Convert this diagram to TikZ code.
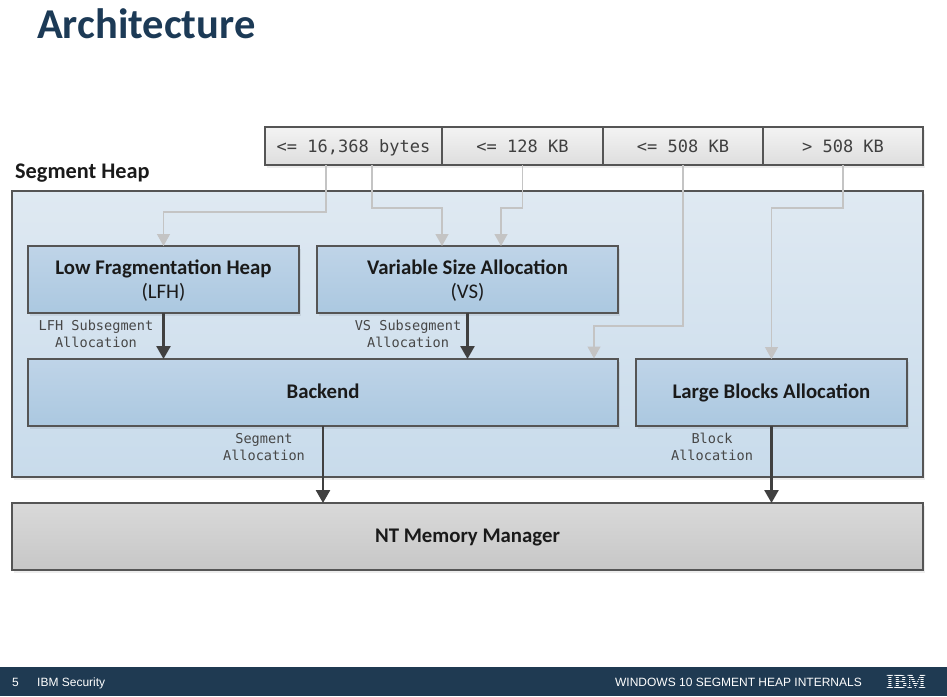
\documentclass[tikz,border=0pt]{standalone}
\usepackage{fontspec}
\setmainfont{Carlito}
\setsansfont{Liberation Sans}
\setmonofont{DejaVu Sans Mono}
\usetikzlibrary{arrows.meta,shadows}
\definecolor{edgegrey}{HTML}{555555}
\definecolor{lightconn}{HTML}{C4C4C4}
\definecolor{darkconn}{HTML}{404040}
\definecolor{navy}{HTML}{1F3A52}
\definecolor{titlecol}{HTML}{1C3A56}
\definecolor{textcol}{HTML}{1A1A1A}
\definecolor{bluetop}{HTML}{BFD4E8}
\definecolor{bluebot}{HTML}{ABC8E0}
\definecolor{heaptop}{HTML}{DFE9F2}
\definecolor{heapbot}{HTML}{C8DBEB}
\definecolor{nttop}{HTML}{D9D9D9}
\definecolor{ntbot}{HTML}{C7C7C7}
\definecolor{celltop}{HTML}{F3F3F3}
\definecolor{cellbot}{HTML}{DEDEDE}
\tikzset{
  x=1pt,y=-1pt,
  boxbase/.style={draw=edgegrey,line width=1.15pt,rectangle,inner sep=0pt,outer sep=0pt,anchor=center,align=center,text=textcol,
    drop shadow={shadow xshift=2pt,shadow yshift=-3pt,fill=black,opacity=.07}},
  bluebox/.style={boxbase,top color=bluetop,bottom color=bluebot},
  heapbox/.style={boxbase,top color=heaptop,bottom color=heapbot},
  ntbox/.style={boxbase,top color=nttop,bottom color=ntbot},
  cellbox/.style={boxbase,top color=celltop,bottom color=cellbot,font=\ttfamily\fontsize{17}{17}\selectfont,text=black!75,text height=13pt,text depth=1pt},
  boxlabel/.style={font=\bfseries\fontsize{20.8}{25}\selectfont,text height=13pt,text depth=1pt},
  twoline/.style={font=\fontsize{20.8}{24.5}\selectfont},
  smalllabel/.style={font=\ttfamily\fontsize{13.6}{17.5}\selectfont,align=center,text=black!72,inner sep=0pt},
  lightarrow/.style={draw=lightconn,line width=1.3pt,-{Triangle[length=12pt,width=13pt,fill=lightconn]}},
  darkarrow/.style={draw=darkconn,line width=2.6pt,-{Triangle[length=13pt,width=14pt,fill=darkconn]}},
  footertext/.style={font=\sffamily\fontsize{12}{14}\selectfont,text=white,inner sep=0pt},
}
\begin{document}
\begin{tikzpicture}
\useasboundingbox (0,0) rectangle (947,696);
\fill[white] (0,0) rectangle (947,696);
% title
\node[anchor=base west,inner sep=0pt,font=\bfseries\fontsize{42.5}{42.5}\selectfont,text=titlecol] (title) at (37,38) {Architecture};
\node[anchor=base west,inner sep=0pt,font=\bfseries\fontsize{22.3}{22.3}\selectfont,text=textcol] (shlabel) at (15,178) {Segment Heap};
% heap container
\node[heapbox,minimum width=911pt,minimum height=286pt] (heap) at (467.5,334) {};
% size cells
\node[cellbox,minimum width=177pt,minimum height=38pt] (c1) at (353.5,146) {<= 16,368 bytes};
\node[cellbox,minimum width=161pt,minimum height=38pt] (c2) at (522.5,146) {<= 128 KB};
\node[cellbox,minimum width=160pt,minimum height=38pt] (c3) at (683,146) {<= 508 KB};
\node[cellbox,minimum width=160pt,minimum height=38pt] (c4) at (843,146) {> 508 KB};
% blocks
\node[bluebox,twoline,minimum width=271pt,minimum height=67pt] (lfh) at (163.5,279.5) {\rule{0pt}{17pt}\textbf{Low Fragmentation Heap}\\(LFH)};
\node[bluebox,twoline,minimum width=301pt,minimum height=67pt] (vs) at (467.5,279.5) {\rule{0pt}{17pt}\textbf{Variable Size Allocation}\\(VS)};
\node[bluebox,boxlabel,minimum width=590pt,minimum height=67pt] (backend) at (323,392.5) {Backend};
\node[bluebox,boxlabel,minimum width=271pt,minimum height=67pt] (large) at (771.5,392.5) {Large Blocks Allocation};
\node[ntbox,boxlabel,minimum width=911pt,minimum height=67pt] (nt) at (467.5,536.5) {NT Memory Manager};
% small labels
\node[smalllabel] (l1) at (96,334) {LFH Subsegment\\Allocation};
\node[smalllabel] (l2) at (408,334) {VS Subsegment\\Allocation};
\node[smalllabel] (l3) at (264,447) {Segment\\Allocation};
\node[smalllabel] (l4) at (712,447) {Block\\Allocation};
% bend points
\coordinate (b1) at (163.5,212);
\coordinate (b2) at (442,208);
\coordinate (b3) at (501,208);
\coordinate (b4) at (594,326);
\coordinate (b5) at (771.5,208);
\coordinate (t2) at (442,246);
\coordinate (t3) at (501,246);
\coordinate (t4) at (594,358.5);
% light connectors
\draw[lightarrow] ([xshift=-27.5pt]c1.south) |- (b1) -- (lfh.north);
\draw[lightarrow] ([xshift=18.5pt]c1.south) |- (b2) -- (t2);
\draw[lightarrow] (c2.south) |- (b3) -- (t3);
\draw[lightarrow] (c3.south) |- (b4) -- (t4);
\draw[lightarrow] (c4.south) |- (b5) -- (large.north);
% dark connectors
\draw[darkarrow] (lfh.south) -- (lfh.south |- backend.north);
\draw[darkarrow] (vs.south) -- (vs.south |- backend.north);
\draw[darkarrow] (backend.south) -- (backend.south |- nt.north);
\draw[darkarrow] (large.south) -- (large.south |- nt.north);
% footer
\fill[navy] (0,667) rectangle (947,696);
\node[footertext,anchor=base west] (pg) at (12,686) {5};
\node[footertext,anchor=base west] (sec) at (37,686) {IBM Security};
\node[footertext,anchor=base east] (ft) at (862,686) {WINDOWS 10 SEGMENT HEAP INTERNALS};
\node[anchor=base,inner sep=0pt,text=white,font=\fontspec{Liberation Serif}\bfseries\fontsize{20}{20}\selectfont] (ibm) at (906,688) {IBM};
\foreach \yy in {675.5,677.5,679.5,681.5,683.5,685.5}
  \fill[navy] (885,\yy) rectangle (928,\yy+0.7);
\end{tikzpicture}
\end{document}
